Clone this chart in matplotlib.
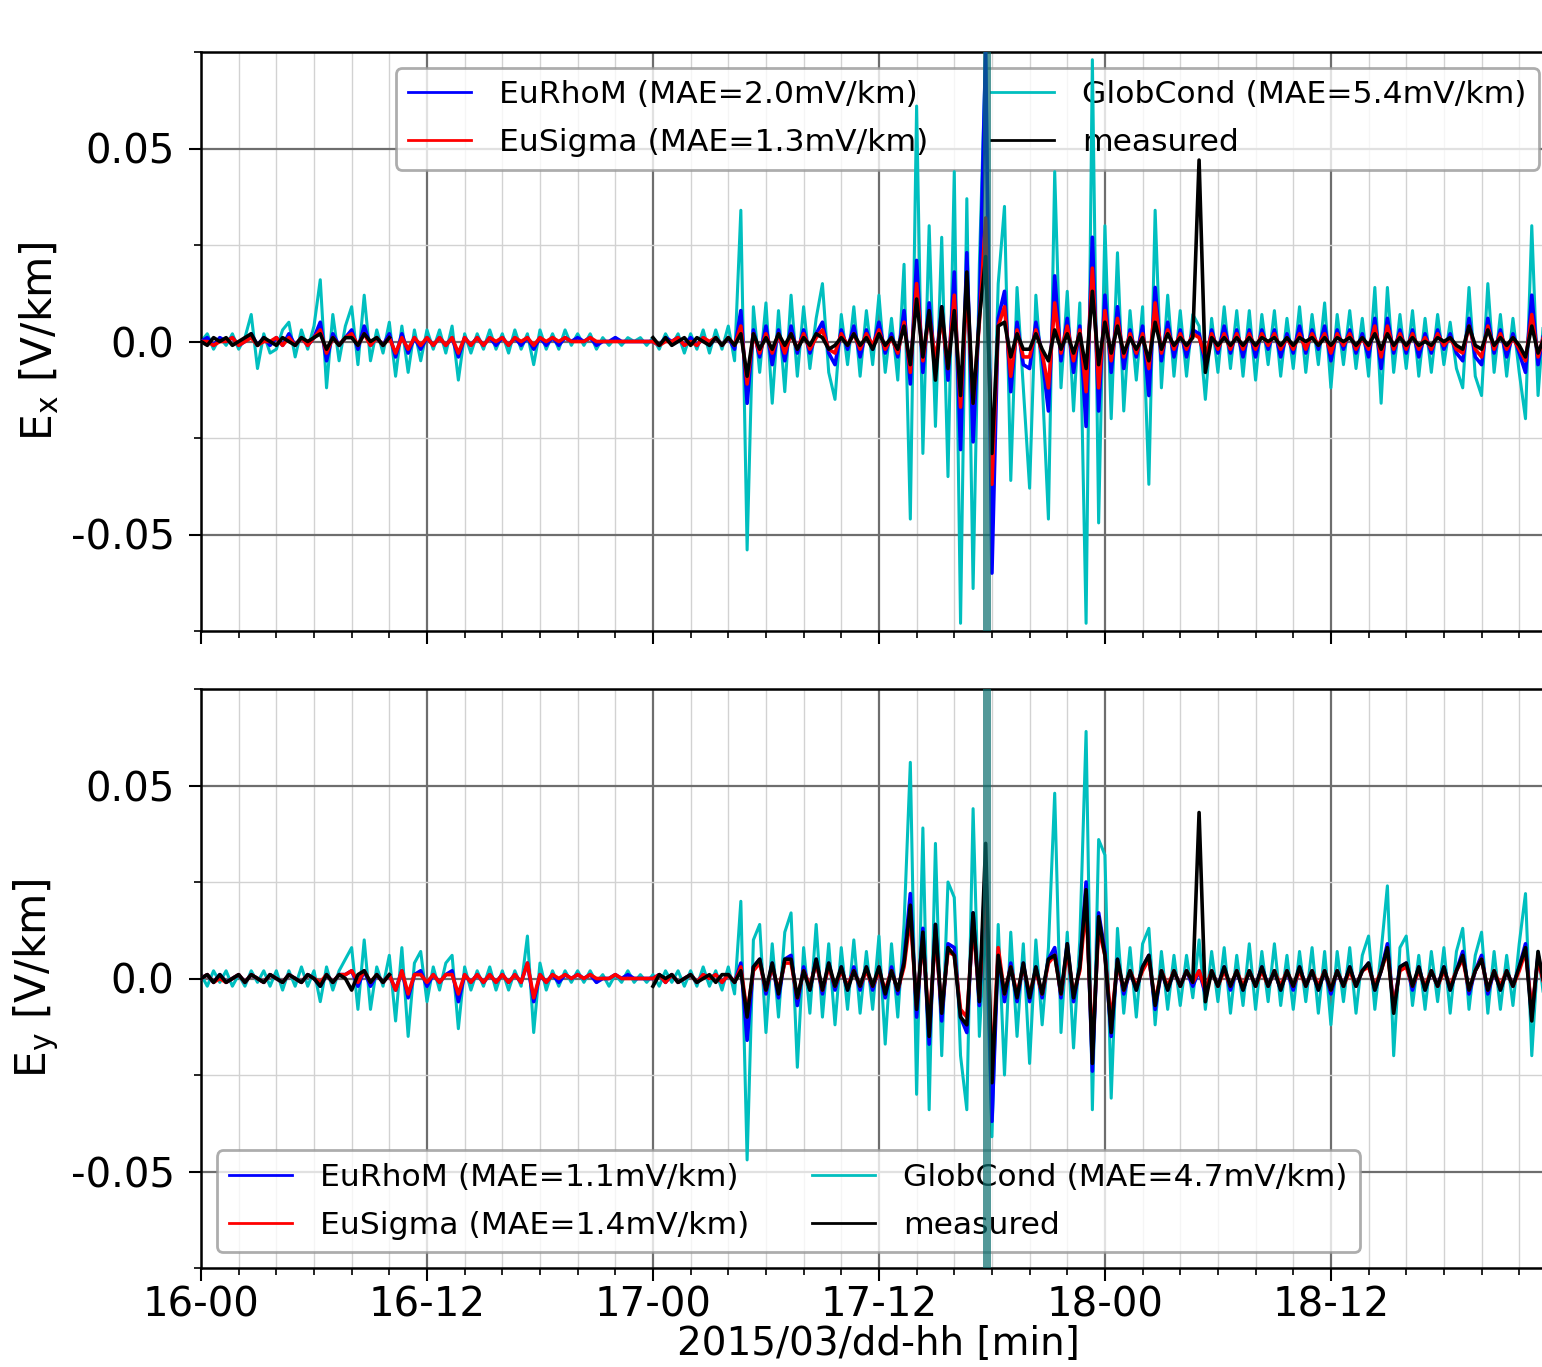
import numpy as np
import matplotlib
matplotlib.use('Agg')
import matplotlib.pyplot as plt
from matplotlib.ticker import FixedLocator, FixedFormatter

N = None
# ---------------- data (mV/km, 20-min samples from 2015-03-16 00:00) ----------------
ex_globcond = [
    0, 2, -2, 1, -1, 2, -2, 1, 7, -7, 2, -3,
    -2, 3, 5, -4, 3, -2, 4, 16, -12, 7, -5, 4,
    9, -6, 12, -5, 3, -3, 5, -9, 4, -8, 3, -5,
    3, -2, 3, -3, 4, -10, 2, -3, 2, -2, 3, -2,
    2, -3, 3, -2, 2, -6, 3, -2, 2, -2, 3, -1,
    2, -1, 2, -2, 1, -1, 1, -1, 1, 0, 1, -1,
    1, -2, 2, -1, 2, -3, 2, -2, 3, -3, 3, -2,
    4, -5, 34, -54, 9, -8, 10, -16, 8, -13, 12, -9,
    9, -7, 6, 15, -8, -15, 7, -6, 9, -9, 8, -6,
    12, -8, 6, -10, 20, -46, 61, -29, 30, -22, 27, -35,
    44, -73, 37, -64, 20, 75, -40, 15, 35, -36, 14, -12,
    -38, 12, -10, -46, 44, -12, 13, -18, 10, -73, 73, -47,
    30, -20, 23, -18, 8, -10, 9, -37, 34, -12, 12, -9,
    8, -9, 7, 4, -15, 6, -8, 9, -7, 8, -9, 8,
    -10, 7, -6, 8, -9, 6, -7, 9, -8, 7, -6, 10,
    -12, 7, -6, 8, -7, 6, -9, 14, -16, 14, -8, 7,
    -7, 8, -9, 6, -8, 7, -6, 5, -7, -12, 14, -9,
    -14, 15, -8, 7, -9, 6, -8, -20, 30, -14, 8, -5,
]
ex_eurhom = [
    0, 1, -1, 1, 0, 1, -1, 0, 2, -1, 1, -1,
    1, -1, 2, -1, 1, -1, 1, 5, -5, 2, -1, 1,
    3, -2, 4, -1, 1, -1, 2, -4, 2, -3, 1, -2,
    1, -1, 1, -1, 1, -4, 1, -1, 1, -1, 1, -1,
    1, -1, 1, -1, 1, -2, 1, -1, 1, -1, 1, 0,
    1, 0, 1, -1, 0, 0, 1, 0, 0, 0, 0, 0,
    0, -1, 1, 0, 1, -1, 1, -1, 1, -1, 1, -1,
    1, -2, 8, -16, 3, -4, 4, -6, 3, -5, 4, -3,
    3, -3, 2, 5, -3, -6, 3, -2, 4, -4, 3, -2,
    5, -3, 2, -4, 8, -11, 21, -8, 10, -7, 9, -10,
    18, -28, 23, -26, 8, 75, -60, 6, 13, -13, 5, -6,
    -7, 5, -4, -18, 17, -5, 6, -8, 4, -22, 27, -18,
    12, -8, 9, -7, 3, -4, 4, -14, 14, -5, 5, -4,
    3, -4, 3, 2, -6, 3, -3, 4, -3, 3, -4, 3,
    -4, 3, -2, 3, -4, 2, -3, 4, -3, 3, -2, 4,
    -5, 3, -2, 3, -3, 2, -4, 6, -7, 6, -3, 3,
    -3, 3, -4, 2, -3, 3, -2, 2, -3, -5, 6, -4,
    -6, 6, -3, 3, -4, 2, -3, -8, 12, -6, 3, -2,
]
ex_eusigma = [
    0, 0, -1, 0, 0, 1, -1, 0, 1, -1, 0, 0,
    1, -1, 1, -1, 1, -1, 1, 3, -3, 1, -1, 1,
    2, -1, 2, -1, 1, -1, 1, -3, 1, -2, 1, -1,
    1, -1, 1, -1, 1, -3, 1, -1, 1, -1, 1, 0,
    1, -1, 1, 0, 1, -1, 1, 0, 1, 0, 1, 0,
    0, 0, 1, 0, 0, 0, 0, 0, 0, 0, 0, 0,
    0, -1, 0, 0, 1, -1, 0, -1, 1, 0, 1, -1,
    1, -1, 4, -11, 2, -3, 2, -3, 2, -3, 2, -2,
    2, -2, 1, 3, -2, -3, 2, -1, 2, -2, 2, -1,
    3, -2, 1, -3, 5, -8, 15, -5, 7, -5, 6, -7,
    12, -17, 14, -16, 5, 32, -37, 4, 9, -9, 3, -4,
    -4, 3, -3, -12, 10, -3, 4, -5, 3, -13, 19, -12,
    8, -5, 6, -4, 2, -3, 2, -7, 10, -3, 3, -2,
    2, -2, 2, 1, -4, 2, -2, 2, -2, 2, -2, 2,
    -2, 2, -1, 2, -2, 1, -2, 2, -2, 2, -1, 2,
    -3, 2, -1, 2, -2, 1, -2, 4, -4, 4, -2, 2,
    -2, 2, -2, 1, -2, 2, -1, 1, -2, -3, 4, -2,
    -4, 4, -2, 2, -2, 1, -2, -5, 7, -4, 2, -1,
]
ex_measured = [
    0, -1, 1, 0, 1, -1, 0, 1, 2, -1, 1, 0,
    -1, 1, 0, -1, 1, 0, 1, 2, -2, 1, -1, 1,
    1, -1, 2, 0, 1, -1, 1, N, N, N, N, N,
    N, N, N, N, N, N, N, N, N, N, N, N,
    N, N, N, N, N, N, N, N, N, N, N, N,
    N, N, N, N, N, N, N, N, N, N, N, N,
    1, -1, 1, -1, 0, 1, -1, 1, 0, -1, 1, -1,
    1, -1, 2, -9, 2, -2, 1, -2, 2, -1, 2, -2,
    1, -1, 2, 1, -2, -1, 1, -1, 2, -1, 1, -2,
    2, -1, 1, -2, 4, -6, 11, -4, 8, -10, 9, -7,
    8, -14, 18, -16, 6, 22, -29, 4, 5, -4, 2, -2,
    -2, 2, -2, -5, 3, -2, 2, -3, 2, -7, 13, -6,
    5, -3, 4, -3, 1, -2, 1, -5, 5, -2, 2, -1,
    1, -1, 1, 47, -8, 1, -1, 1, -1, 1, -1, 1,
    -1, 1, 0, 1, -1, 1, -1, 1, 0, 1, -1, 1,
    -1, 1, 0, 1, -1, 1, -1, 2, -2, 2, -1, 1,
    -1, 1, -1, 0, -1, 1, 0, 1, -1, -2, 4, -1,
    -2, 3, -1, 1, -1, 1, -1, -4, 4, -3, 1, -1,
]
ey_globcond = [
    1, -2, 2, -1, 2, -2, 1, -2, 2, -1, 2, -2,
    2, -3, 2, -2, 3, -2, 2, -6, 3, -3, 2, 5,
    8, -8, 10, -8, 3, -2, 6, -11, 8, -15, 4, 7,
    -6, 3, -3, 4, 6, -13, 3, -3, 2, -2, 3, -3,
    2, -3, 2, -2, 11, -14, 4, -3, 2, -2, 2, -1,
    2, -1, 2, -1, 1, -2, 1, -1, 2, -1, 1, -1,
    1, -2, 2, -1, 2, -2, 2, -2, 3, -2, 2, -3,
    3, -4, 20, -47, 10, 14, -14, 9, -10, 12, 17, -23,
    8, -9, 14, -10, 9, -12, 8, -8, 10, -9, 7, -8,
    11, -17, 9, -10, 14, 56, -30, 39, -34, 35, -20, 25,
    21, -20, -34, 44, -15, 16, -41, 14, -25, 12, -15, 9,
    -22, 10, -12, 8, 48, -14, 12, -18, 10, 64, -34, 36,
    32, -31, 13, -9, 8, -10, 9, 13, -12, 7, -8, 6,
    -7, 6, -5, 10, -8, 7, -6, 8, -9, 6, -7, 9,
    -8, 7, -6, 9, -7, 6, -8, 7, -6, 8, -9, 7,
    -12, 7, -6, 8, -9, 6, 11, -8, 7, 24, -20, 8,
    11, -7, 6, -8, 7, -6, 8, -9, 7, 13, -8, 6,
    12, -9, 7, -8, 6, -7, 9, 22, -20, 7, -6, 5,
]
ey_eurhom = [
    0, 1, -1, 1, -1, 0, 1, -1, 1, 0, -1, 1,
    0, -1, 1, 0, -1, 1, 0, -2, 1, -1, 1, 1,
    2, -2, 2, -2, 1, -1, 1, -3, 2, -5, 1, 2,
    -2, 1, -1, 1, 2, -6, 1, -1, 1, -1, 1, -1,
    1, -1, 1, -1, 4, -6, 1, -1, 1, -1, 1, 0,
    1, 0, 1, -1, 0, 0, 1, 0, 1, 0, 0, 0,
    0, 1, -1, 1, -1, 0, 1, -1, 1, 0, 1, -1,
    1, -1, 4, -16, 3, 5, -4, 4, -5, 5, 6, -7,
    3, -3, 5, -4, 4, -3, 3, -3, 3, -3, 3, -3,
    3, -5, 3, -4, 5, 22, -10, 13, -17, 14, -11, 9,
    8, -10, -14, 17, -7, 30, -37, 7, -6, 4, -6, 4,
    -6, 3, -5, 5, 8, -5, 9, -6, 3, 25, -24, 17,
    7, -15, 5, -4, 2, -3, 3, 6, -8, 2, -3, 2,
    -2, 2, -2, 2, -4, 2, -2, 3, -3, 2, -3, 2,
    -2, 3, -2, 2, -3, 2, -3, 3, -2, 2, -3, 2,
    -4, 2, -2, 3, -2, 2, 4, -3, 2, 9, -8, 3,
    4, -3, 3, -3, 2, -2, 3, -3, 2, 7, -4, 2,
    6, -4, 2, -3, 2, -2, 3, 9, -10, 6, -2, 2,
]
ey_eusigma = [
    0, 1, -1, 0, -1, 0, 1, -1, 1, 0, -1, 1,
    0, -1, 1, 0, -1, 1, 0, -1, 1, -1, 1, 1,
    2, -1, 2, -1, 1, -1, 1, -3, 2, -4, 1, 1,
    -1, 1, -1, 1, 1, -4, 1, -1, 1, -1, 1, -1,
    1, -1, 1, -1, 4, -5, 1, -1, 1, 0, 1, 0,
    1, 0, 1, 0, 0, 0, 1, 0, 0, 0, 0, 0,
    0, 1, -1, 1, -1, 0, 1, -1, 1, 0, 1, -1,
    1, -1, 3, -9, 2, 4, -3, 3, -3, 4, 4, -5,
    2, -2, 4, -3, 3, -2, 2, -2, 2, -2, 2, -2,
    2, -3, 2, -3, 3, 16, -7, 10, -12, 11, -8, 7,
    6, -8, -10, 14, -5, 25, -24, 8, -4, 3, -4, 3,
    -4, 2, -4, 4, 6, -4, 7, -4, 2, 19, -18, 13,
    6, -11, 4, -3, 2, -2, 2, 5, -6, 2, -2, 2,
    -2, 2, -1, 2, -3, 2, -2, 2, -2, 2, -2, 2,
    -2, 2, -2, 2, -2, 2, -2, 2, -2, 2, -2, 2,
    -3, 2, -2, 2, -2, 2, 3, -2, 2, 7, -7, 2,
    3, -2, 2, -2, 2, -2, 2, -2, 2, 5, -3, 2,
    5, -3, 2, -2, 2, -2, 2, 7, -8, 5, -2, 2,
]
ey_measured = [
    0, 1, -1, 1, -1, 0, 1, -1, 1, 0, -1, 1,
    0, -1, 1, 0, -1, 1, 0, -2, 1, -1, 1, 0,
    -3, 1, 2, -1, 1, -1, 1, N, N, N, N, N,
    N, N, N, N, N, N, N, N, N, N, N, N,
    N, N, N, N, N, N, N, N, N, N, N, N,
    N, N, N, N, N, N, N, N, N, N, N, N,
    -2, 1, 0, 1, -1, 0, 1, -1, 0, 1, -1, 1,
    1, -1, 2, -10, 3, 5, -3, 4, -4, 5, 5, -5,
    2, -3, 5, -3, 4, -2, 3, -3, 2, -2, 3, -2,
    3, -4, 2, -3, 4, 19, -8, 12, -15, 14, -9, 8,
    6, -10, -12, 17, -6, 35, -27, 6, -4, 3, -5, 4,
    -5, 3, -4, 5, 6, -4, 9, -5, 3, 23, -22, 16,
    6, -14, 5, -3, 2, -3, 3, 6, -7, 2, -3, 2,
    -2, 2, -1, 43, -6, 2, -2, 3, -2, 2, -3, 2,
    -2, 3, -2, 2, -3, 2, -2, 3, -2, 2, -3, 2,
    -3, 2, -2, 3, -2, 2, 4, -3, 2, 8, -9, 3,
    4, -2, 3, -3, 2, -2, 3, -3, 2, 6, -3, 2,
    5, -3, 2, -3, 2, -2, 3, 8, -11, 7, -2, 2,
]

labels_x = ['EuRhoM (MAE=2.0mV/km)', 'EuSigma (MAE=1.3mV/km)',
            'GlobCond (MAE=5.4mV/km)', 'measured']
labels_y = ['EuRhoM (MAE=1.1mV/km)', 'EuSigma (MAE=1.4mV/km)',
            'GlobCond (MAE=4.7mV/km)', 'measured']
tick_hours = [0, 12, 24, 36, 48, 60]
tick_labels = ['16-00', '16-12', '17-00', '17-12', '18-00', '18-12']
ytick_vals = [-0.05, 0.0, 0.05]
ytick_labels = ['-0.05', '0.0', '0.05']
highlight = (41.5, 41.95)

# ---------------- plotting ----------------
plt.rcParams['font.family'] = ['DejaVu Sans']
plt.rcParams['font.size'] = 29

hours = np.arange(len(ex_globcond)) / 3.0


def to_v(lst):
    return np.array(lst, dtype=float) / 1000.0


fig = plt.figure(figsize=(15.42, 13.67), dpi=100)
left = 201 / 1542
width = (1555 - 201) / 1542
ax1 = fig.add_axes([left, 1 - 631 / 1367, width, (631 - 52) / 1367])
ax2 = fig.add_axes([left, 1 - 1268 / 1367, width, (1268 - 689) / 1367])

panels = [
    (ax1, ex_eurhom, ex_eusigma, ex_globcond, ex_measured, labels_x,
     'E$_\\mathrm{x}$ [V/km]', 'upper right'),
    (ax2, ey_eurhom, ey_eusigma, ey_globcond, ey_measured, labels_y,
     'E$_\\mathrm{y}$ [V/km]', 'lower left'),
]

for ax, rho, sig, glob, meas, labs, ylab, loc in panels:
    lg, = ax.plot(hours, to_v(glob), color='c', lw=2.2, zorder=2)
    lb, = ax.plot(hours, to_v(rho), color='b', lw=2.6, zorder=3)
    lr, = ax.plot(hours, to_v(sig), color='r', lw=2.6, zorder=4)
    lm, = ax.plot(hours, to_v(meas), color='k', lw=2.6, zorder=5)
    ax.axvspan(highlight[0], highlight[1], color='#0a6e6e', alpha=0.7,
               lw=0, zorder=7)
    ax.set_xlim(0, 71.9)
    ax.set_ylim(-0.075, 0.075)
    ax.xaxis.set_major_locator(FixedLocator(tick_hours))
    ax.xaxis.set_minor_locator(FixedLocator(list(range(0, 72, 2))))
    ax.yaxis.set_major_locator(FixedLocator(ytick_vals))
    ax.yaxis.set_major_formatter(FixedFormatter(ytick_labels))
    ax.yaxis.set_minor_locator(FixedLocator([-0.075, -0.025, 0.025, 0.075]))
    ax.grid(which='major', color='#6e6e6e', lw=1.6)
    ax.grid(which='minor', color='#d2d2d2', lw=1.0)
    ax.set_axisbelow(True)
    ax.tick_params(which='major', length=9, width=1.5, direction='out')
    ax.tick_params(which='minor', length=5, width=1.2, direction='out')
    ax.tick_params(axis='y', which='major', pad=10)
    for s in ax.spines.values():
        s.set_linewidth(1.8)
    ax.set_ylabel(ylab, fontsize=30.5, labelpad=7)
    leg = ax.legend([lb, lr, lg, lm], labs, loc=loc, ncol=2, fontsize=22.6,
                    framealpha=0.8, edgecolor='0.6', handlelength=2.0,
                    handletextpad=0.9, labelspacing=0.6, columnspacing=2.0)
    for ln in leg.get_lines():
        ln.set_linewidth(2.0)
    leg.get_frame().set_linewidth(2.0)
    leg.set_zorder(1)

ax1.set_xticklabels([])
ax2.xaxis.set_major_formatter(FixedFormatter(tick_labels))
ax2.set_xlabel('2015/03/dd-hh [min]', fontsize=28, labelpad=0)

fig.savefig('out.png', dpi=100)
